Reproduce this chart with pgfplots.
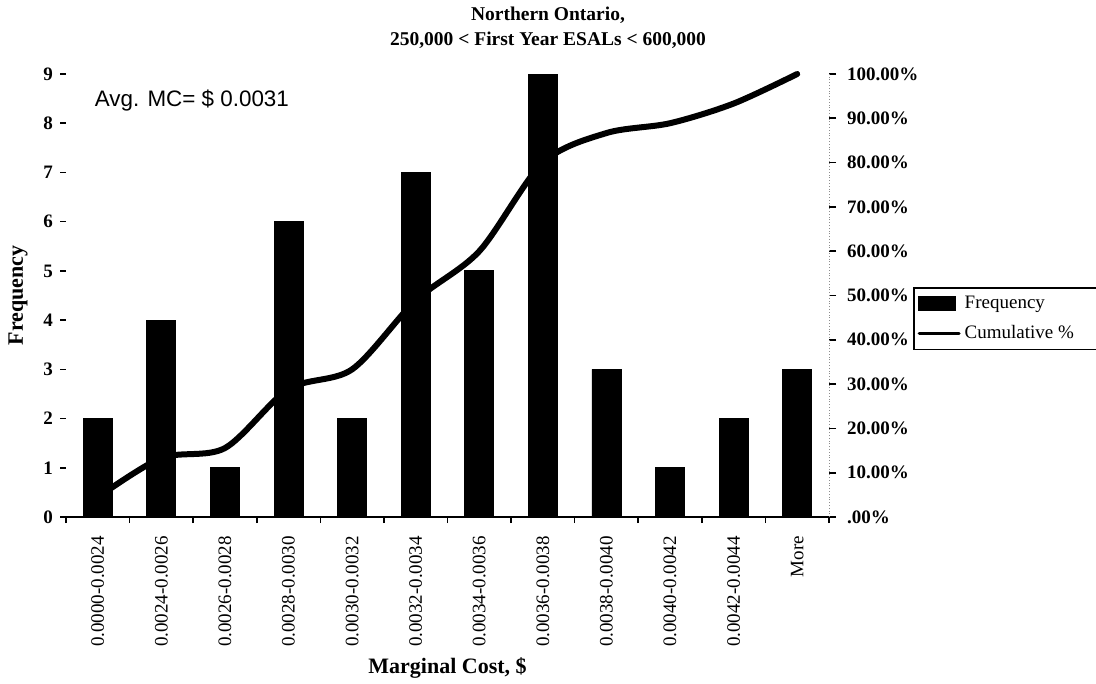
\documentclass[border=0pt]{standalone}
\usepackage{pgfplots}
\pgfplotsset{compat=1.18}
\usepackage{fontspec}
\setmainfont{Liberation Serif}
\newfontfamily\arialfont{Liberation Sans}

\begin{document}
\begin{tikzpicture}
\path[use as bounding box] (0,0) rectangle (548pt,-342pt);

% titles and axis names
\node[font=\fontsize{9.75}{11}\selectfont\bfseries] at (274pt,-7.5pt) {Northern Ontario,};
\node[font=\fontsize{9.75}{11}\selectfont\bfseries] at (274pt,-20pt) {250,000 < First Year ESALs < 600,000};
\node[font=\fontsize{11}{12}\selectfont\bfseries, rotate=90] at (9pt,-147.75pt) {Frequency};
\node[font=\fontsize{11}{12}\selectfont\bfseries] at (223.75pt,-334pt) {Marginal Cost, \$};

% frequency bars (left axis)
\begin{axis}[
  at={(33pt,-258.5pt)}, anchor=south west,
  scale only axis, width=381.5pt, height=221.5pt,
  xmin=-0.5, xmax=11.5, ymin=0, ymax=9,
  axis x line*=bottom, axis y line*=left,
  x axis line style={line width=1pt},
  y axis line style={draw=none},
  tick align=outside,
  major tick length=3pt,
  tick style={black, line width=0.8pt},
  ytick={0,1,...,9},
  yticklabel style={font=\fontsize{9.5}{11}\selectfont\bfseries},
  /pgf/number format/assume math mode=true,
  xtick={-0.5,0.5,1.5,2.5,3.5,4.5,5.5,6.5,7.5,8.5,9.5,10.5,11.5},
  xticklabels={},
  extra x ticks={0,1,...,11},
  extra x tick labels={0.0000-0.0024,0.0024-0.0026,0.0026-0.0028,0.0028-0.0030,0.0030-0.0032,0.0032-0.0034,0.0034-0.0036,0.0036-0.0038,0.0038-0.0040,0.0040-0.0042,0.0042-0.0044,More},
  extra x tick style={major tick length=0pt,
    xticklabel style={rotate=90, anchor=east, xshift=-6pt,
      font=\fontsize{9.5}{11}\selectfont}},
  clip=false,
]
\addplot[ybar, bar width=14.5pt, fill=black, draw=black] coordinates {
  (0,2) (1,4) (2,1) (3,6) (4,2) (5,7) (6,5) (7,9) (8,3) (9,1) (10,2) (11,3)};
\node[font=\arialfont\fontsize{11.2}{13}\selectfont] at (rel axis cs:0.165,0.941) {Avg. MC= \$ 0.0031};
\end{axis}

% cumulative line (right axis)
\begin{axis}[
  at={(33pt,-258.5pt)}, anchor=south west,
  scale only axis, width=381.5pt, height=221.5pt,
  xmin=-0.5, xmax=11.5, ymin=0, ymax=100,
  axis x line=none, axis y line*=right,
  y axis line style={densely dotted, black!45},
  tick align=outside,
  major tick length=3.5pt,
  tick style={black, line width=0.8pt},
  ytick={0,10,...,100},
  yticklabels={.00\%,10.00\%,20.00\%,30.00\%,40.00\%,50.00\%,60.00\%,70.00\%,80.00\%,90.00\%,100.00\%},
  yticklabel style={font=\fontsize{9.5}{11}\selectfont\bfseries, xshift=2pt},
  legend style={at={(rel axis cs:1.110,0.519)}, anchor=north west,
    draw=black, line width=0.8pt, font=\fontsize{9.5}{11}\selectfont,
    inner sep=2pt, row sep=3pt, legend cell align=left},
  clip=false,
]
\addlegendimage{legend image code/.code={\fill[black] (0pt,-3.25pt) rectangle (18pt,3.25pt);}}
\addlegendentry{Frequency}
\addplot[black, line width=3pt, smooth, line cap=round,
  legend image code/.code={\draw[black, line width=1.5pt] (0pt,0pt) -- (20pt,0pt);}]
  coordinates {(0,4.44) (1,13.33) (2,15.56) (3,28.89) (4,33.33) (5,48.89)
  (6,60.00) (7,80.00) (8,86.67) (9,88.89) (10,93.33) (11,100.00)};
\addlegendentry{Cumulative \%\kern14pt}
\end{axis}
\end{tikzpicture}
\end{document}
